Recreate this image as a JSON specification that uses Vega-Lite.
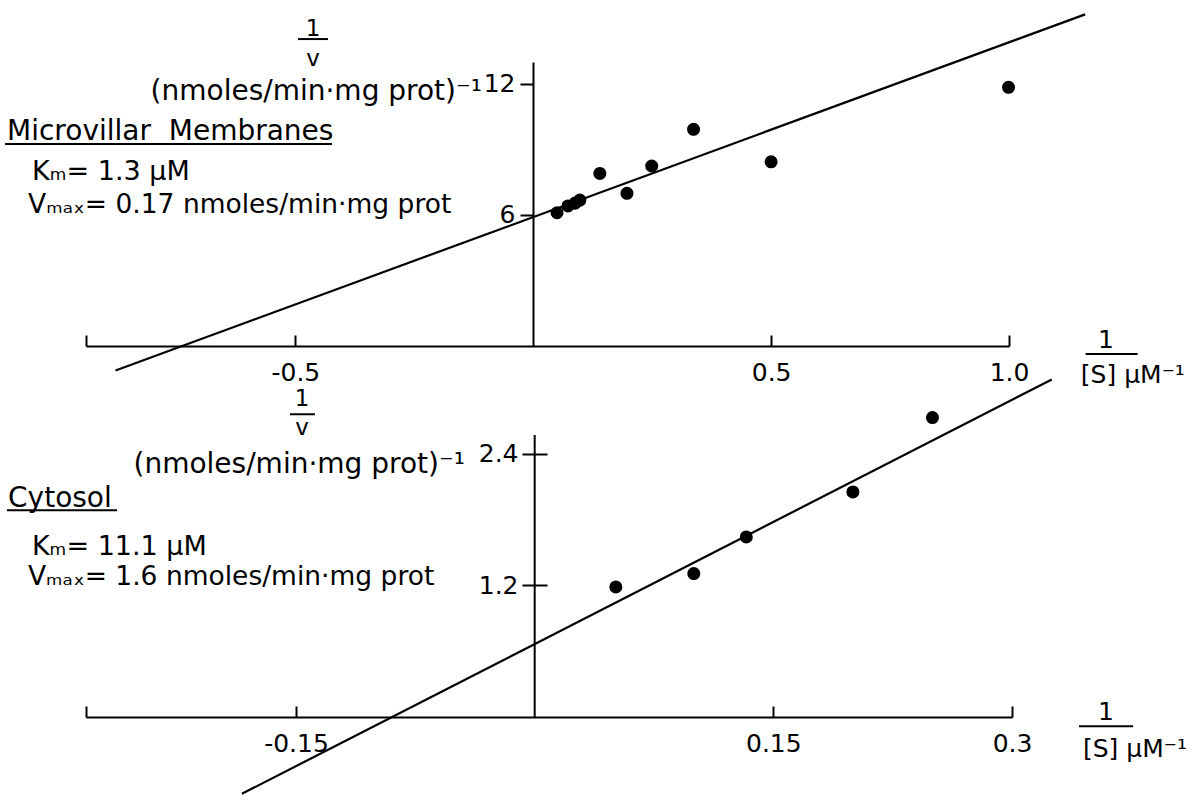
{
  "$schema": "https://vega.github.io/schema/vega-lite/v6.json",
  "autosize": {"type": "none"},
  "padding": {"left": 86, "top": 62, "right": 1113, "bottom": 739},
  "background": "white",
  "bounds": "flush",
  "spacing": 89,
  "config": {
    "view": {"stroke": null},
    "font": "DejaVu Sans",
    "axis": {"domainColor": "black", "domainWidth": 2, "tickColor": "black", "tickWidth": 2, "labelColor": "black", "labelFont": "DejaVu Sans", "labelFontSize": 25, "grid": false, "title": null, "labelFlush": false, "labelOverlap": false},
    "text": {"font": "DejaVu Sans", "fontSize": 27, "color": "black", "baseline": "alphabetic"},
    "rule": {"color": "black", "strokeWidth": 2}
  },
  "datasets": {
    "mv_points": [
      {"x": 0.050, "y": 6.10}, {"x": 0.073, "y": 6.41}, {"x": 0.088, "y": 6.54}, {"x": 0.098, "y": 6.68},
      {"x": 0.140, "y": 7.90}, {"x": 0.197, "y": 6.99}, {"x": 0.249, "y": 8.24}, {"x": 0.337, "y": 9.92},
      {"x": 0.500, "y": 8.43}, {"x": 0.999, "y": 11.84}
    ],
    "mv_fit": [{"x": -0.878, "y": -1.12}, {"x": 1.16, "y": 15.18}],
    "cy_points": [
      {"x": 0.051, "y": 1.185}, {"x": 0.100, "y": 1.307}, {"x": 0.133, "y": 1.641}, {"x": 0.200, "y": 2.051}, {"x": 0.250, "y": 2.729}
    ],
    "cy_fit": [{"x": -0.184, "y": -0.70}, {"x": 0.325, "y": 3.076}],
    "one": [{"k": 1}]
  },
  "vconcat": [
    {
      "width": 923,
      "height": 284,
      "encoding": {
        "x": {"type": "quantitative", "scale": {"domain": [-0.94, 1.0], "nice": false, "zero": false},
              "axis": {"orient": "bottom", "values": [-0.94, -0.5, 0.5, 1.0], "tickSize": -11, "labelPadding": 25,
                       "labelExpr": "datum.value < -0.9 ? '' : (datum.value < 0 ? '-0.5' : format(datum.value, '.1f'))"}},
        "y": {"type": "quantitative", "scale": {"domain": [0, 13], "nice": false, "zero": false},
              "axis": {"orient": "left", "offset": -447, "values": [6, 12], "tickSize": 13, "labelPadding": 5, "format": "d"}}
      },
      "layer": [
        {"data": {"name": "mv_fit"}, "mark": {"type": "line", "color": "black", "strokeWidth": 2.2, "clip": false},
         "encoding": {"x": {"field": "x", "type": "quantitative"}, "y": {"field": "y", "type": "quantitative"}}},
        {"data": {"name": "mv_points"}, "mark": {"type": "circle", "size": 170, "color": "black", "opacity": 1},
         "encoding": {"x": {"field": "x", "type": "quantitative"}, "y": {"field": "y", "type": "quantitative"}}},
        {"data": {"name": "one"}, "mark": {"type": "text", "align": "center", "text": "1", "fontSize": 23},
         "encoding": {"x": {"datum": -0.4628}, "y": {"datum": 14.19}}},
        {"data": {"name": "one"}, "mark": {"type": "rule"},
         "encoding": {"x": {"datum": -0.4943}, "x2": {"datum": -0.4313}, "y": {"datum": 14.05}}},
        {"data": {"name": "one"}, "mark": {"type": "text", "align": "center", "text": "v", "fontSize": 23},
         "encoding": {"x": {"datum": -0.4628}, "y": {"datum": 12.82}}},
        {"data": {"name": "one"}, "mark": {"type": "text", "align": "right", "text": "(nmoles/min·mg prot)⁻¹", "fontSize": 28},
         "encoding": {"x": {"datum": -0.1076}, "y": {"datum": 11.26}}},
        {"data": {"name": "one"}, "mark": {"type": "text", "align": "left", "text": "Microvillar\u00a0 Membranes", "fontSize": 28},
         "encoding": {"x": {"datum": -1.106}, "y": {"datum": 9.43}}},
        {"data": {"name": "one"}, "mark": {"type": "rule"},
         "encoding": {"x": {"datum": -1.1102}, "x2": {"datum": -0.4229}, "y": {"datum": 9.245}}},
        {"data": {"name": "one"}, "mark": {"type": "text", "align": "left", "text": "Kₘ= 1.3 µM"},
         "encoding": {"x": {"datum": -1.0534}, "y": {"datum": 7.60}}},
        {"data": {"name": "one"}, "mark": {"type": "text", "align": "left", "text": "Vₘₐₓ= 0.17 nmoles/min·mg prot", "fontSize": 26.5},
         "encoding": {"x": {"datum": -1.0618}, "y": {"datum": 6.09}}},
        {"data": {"name": "one"}, "mark": {"type": "text", "align": "center", "text": "1", "fontSize": 25},
         "encoding": {"x": {"datum": 1.2038}, "y": {"datum": -0.09}}},
        {"data": {"name": "one"}, "mark": {"type": "rule"},
         "encoding": {"x": {"datum": 1.161}, "x2": {"datum": 1.2703}, "y": {"datum": -0.366}}},
        {"data": {"name": "one"}, "mark": {"type": "text", "align": "left", "text": "[S] µM⁻¹", "fontSize": 25},
         "encoding": {"x": {"datum": 1.151}, "y": {"datum": -1.693}}}
      ]
    },
    {
      "width": 926,
      "height": 282,
      "encoding": {
        "x": {"type": "quantitative", "scale": {"domain": [-0.282, 0.3], "nice": false, "zero": false},
              "axis": {"orient": "bottom", "values": [-0.282, -0.15, 0.15, 0.3], "tickSize": -11, "labelPadding": 25,
                       "labelExpr": "datum.value < -0.2 ? '' : (datum.value < 0 ? '-0.15' : (datum.value < 0.2 ? '0.15' : '0.3'))"}},
        "y": {"type": "quantitative", "scale": {"domain": [0, 2.57], "nice": false, "zero": false},
              "axis": {"orient": "left", "offset": -461, "values": [1.2, 2.4], "tickSize": 25, "labelPadding": 4, "domain": false, "format": ".1f"}}
      },
      "layer": [
        {"data": {"name": "one"}, "mark": {"type": "rule"},
         "encoding": {"x": {"datum": 0}, "y": {"datum": 0}, "y2": {"datum": 2.57}}},
        {"data": {"name": "cy_fit"}, "mark": {"type": "line", "color": "black", "strokeWidth": 2.2, "clip": false},
         "encoding": {"x": {"field": "x", "type": "quantitative"}, "y": {"field": "y", "type": "quantitative"}}},
        {"data": {"name": "cy_points"}, "mark": {"type": "circle", "size": 170, "color": "black", "opacity": 1},
         "encoding": {"x": {"field": "x", "type": "quantitative"}, "y": {"field": "y", "type": "quantitative"}}},
        {"data": {"name": "one"}, "mark": {"type": "text", "align": "center", "text": "1", "fontSize": 23},
         "encoding": {"x": {"datum": -0.14626}, "y": {"datum": 2.832}}},
        {"data": {"name": "one"}, "mark": {"type": "rule"},
         "encoding": {"x": {"datum": -0.1538}, "x2": {"datum": -0.1381}, "y": {"datum": 2.759}}},
        {"data": {"name": "one"}, "mark": {"type": "text", "align": "center", "text": "v", "fontSize": 23},
         "encoding": {"x": {"datum": -0.14626}, "y": {"datum": 2.568}}},
        {"data": {"name": "one"}, "mark": {"type": "text", "align": "right", "text": "(nmoles/min·mg prot)⁻¹", "fontSize": 28},
         "encoding": {"x": {"datum": -0.04381}, "y": {"datum": 2.222}}},
        {"data": {"name": "one"}, "mark": {"type": "text", "align": "left", "text": "Cytosol", "fontSize": 28},
         "encoding": {"x": {"datum": -0.331}, "y": {"datum": 1.912}}},
        {"data": {"name": "one"}, "mark": {"type": "rule"},
         "encoding": {"x": {"datum": -0.3317}, "x2": {"datum": -0.2625}, "y": {"datum": 1.884}}},
        {"data": {"name": "one"}, "mark": {"type": "text", "align": "left", "text": "Kₘ= 11.1 µM"},
         "encoding": {"x": {"datum": -0.316}, "y": {"datum": 1.474}}},
        {"data": {"name": "one"}, "mark": {"type": "text", "align": "left", "text": "Vₘₐₓ= 1.6 nmoles/min·mg prot", "fontSize": 26.5},
         "encoding": {"x": {"datum": -0.3185}, "y": {"datum": 1.2006}}},
        {"data": {"name": "one"}, "mark": {"type": "text", "align": "center", "text": "1", "fontSize": 25},
         "encoding": {"x": {"datum": 0.359}, "y": {"datum": -0.03}}},
        {"data": {"name": "one"}, "mark": {"type": "rule"},
         "encoding": {"x": {"datum": 0.3421}, "x2": {"datum": 0.3761}, "y": {"datum": -0.0848}}},
        {"data": {"name": "one"}, "mark": {"type": "text", "align": "left", "text": "[S] µM⁻¹", "fontSize": 25},
         "encoding": {"x": {"datum": 0.3446}, "y": {"datum": -0.367}}}
      ]
    }
  ]
}
